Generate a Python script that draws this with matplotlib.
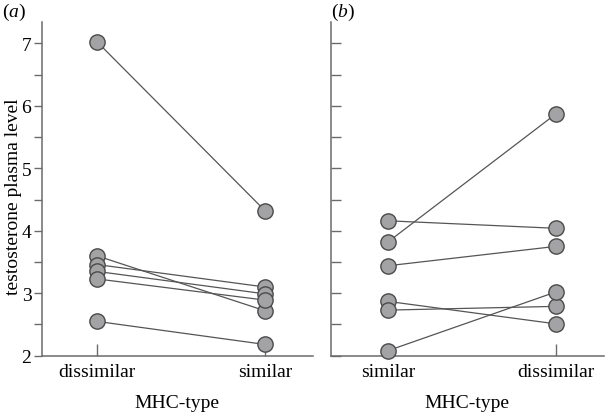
import numpy as np
import matplotlib
matplotlib.use('Agg')
import matplotlib.pyplot as plt

plt.rcParams['font.family'] = ['Liberation Serif', 'DejaVu Serif']
plt.rcParams['mathtext.fontset'] = 'custom'
plt.rcParams['mathtext.rm'] = 'Liberation Serif'
plt.rcParams['mathtext.it'] = 'Liberation Serif:italic'

# panel (a): dissimilar -> similar, one pair per male
a_labels = ['dissimilar', 'similar']
a_first = [7.03, 3.60, 3.46, 3.35, 3.23, 2.55]
a_second = [4.32, 2.72, 3.10, 2.99, 2.89, 2.18]

# panel (b): similar -> dissimilar
b_labels = ['similar', 'dissimilar']
b_first = [4.16, 3.82, 3.44, 2.87, 2.73, 2.08]
b_second = [4.04, 5.87, 3.75, 2.51, 2.79, 3.02]

yticks = np.arange(2, 7.01, 0.5)
ytick_labels = ['2', '', '3', '', '4', '', '5', '', '6', '', '7']

line_col = '#555555'
spine_col = '#6b6b6b'
face_col = '#a3a3a5'
fs = 14

fig = plt.figure(figsize=(6.05, 4.14), dpi=100)
ax1 = fig.add_axes([0.069, 0.1384, 0.4484, 0.805])
ax2 = fig.add_axes([0.547, 0.1384, 0.451, 0.805])


def draw_pairs(ax, first, second):
    for y0, y1 in zip(first, second):
        ax.plot([0, 1], [y0, y1], color=line_col, lw=0.9, zorder=2)
    for x, vals in ((0, first), (1, second)):
        ax.plot([x] * len(vals), vals, 'o', ms=11, mfc=face_col, mec='#4a4a4a',
                mew=1.0, zorder=3, clip_on=False)


for ax, labels, first, second in ((ax1, a_labels, a_first, a_second),
                                  (ax2, b_labels, b_first, b_second)):
    draw_pairs(ax, first, second)
    ax.set_ylim(2, 7.336)
    for s in ('top', 'right'):
        ax.spines[s].set_visible(False)
    for s in ('left', 'bottom'):
        ax.spines[s].set_color(spine_col)
        ax.spines[s].set_linewidth(1.1)
    ax.set_xticks([0, 1])
    ax.set_xticklabels(labels, fontsize=fs)
    ax.tick_params(axis='x', direction='in', length=9, width=1.0, color=spine_col, pad=5)
    ax.set_xlabel('MHC-type', fontsize=fs, labelpad=10)
    ax.set_yticks(yticks)

ax1.set_xlim(-0.327, 1.285)
ax2.set_xlim(-0.339, 1.286)

ax1.set_yticklabels(ytick_labels, fontsize=fs)
ax1.tick_params(axis='y', direction='out', length=6, width=1.0, color=spine_col, pad=1.5)
ax1.set_ylabel('testosterone plasma level', fontsize=fs, va='center')
ax1.yaxis.set_label_coords(-0.105, 0.48)

ax2.set_yticklabels([])
ax2.tick_params(axis='y', direction='in', length=7, width=1.0, color=spine_col)

fig.text(0.003, 0.97, r'($a$)', fontsize=fs, va='center', ha='left')
fig.text(0.547, 0.97, r'($b$)', fontsize=fs, va='center', ha='left')

fig.savefig('out.png', dpi=100)
